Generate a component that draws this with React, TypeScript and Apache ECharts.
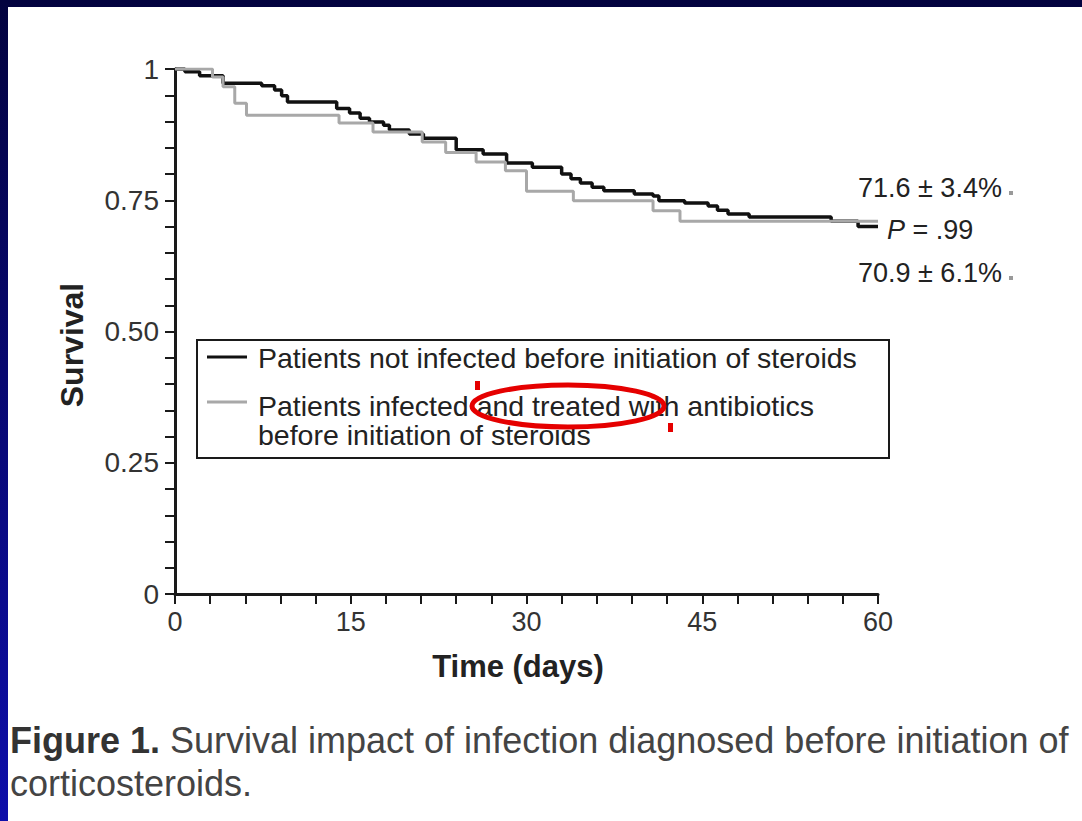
import React, { useEffect, useRef } from "react";
import * as echarts from "echarts";

// Kaplan-Meier steps: day at which the level starts, survival level from that day
const blackDays = [0, 0.85, 2.1, 4.1, 7.4, 8.5, 9.1, 9.6, 13.8, 14.9, 15.8, 16.6, 17.8, 18.3, 20.0, 21.2, 24.0, 26.3, 28.3, 30.5, 33.0, 33.8, 34.6, 35.6, 36.6, 39.2, 40.8, 41.3, 43.5, 45.5, 46.3, 47.2, 49.0, 56.0, 58.3, 60];
const blackSurv = [1.0, 0.995, 0.987, 0.973, 0.968, 0.96, 0.949, 0.937, 0.925, 0.916, 0.906, 0.899, 0.893, 0.884, 0.876, 0.868, 0.846, 0.838, 0.821, 0.813, 0.8, 0.791, 0.783, 0.775, 0.768, 0.762, 0.758, 0.749, 0.745, 0.739, 0.731, 0.724, 0.718, 0.71, 0.7, 0.7];

const greyDays = [0, 3.2, 4.1, 5.1, 6.1, 14.0, 16.9, 21.1, 23.1, 25.7, 28.2, 30.0, 34.0, 40.8, 43.1, 60];
const greySurv = [1.0, 0.985, 0.966, 0.935, 0.912, 0.897, 0.88, 0.861, 0.841, 0.823, 0.806, 0.767, 0.749, 0.73, 0.71, 0.71];

const yTickLabels = ["0", "0.25", "0.50", "0.75", "1"];
const seriesNames = [
  "Patients not infected before initiation of steroids",
  "Patients infected and treated with antibiotics\nbefore initiation of steroids",
];
const annotations = ["71.6 \u00b1 3.4%", " = .99", "70.9 \u00b1 6.1%"];
const xTitle = "Time (days)";
const yTitle = "Survival";
const captionBold = "Figure 1.";
const captionLine1 = " Survival impact of infection diagnosed before initiation of";
const captionLine2 = "corticosteroids.";

const FONT = "'Liberation Sans', Arial, Helvetica, sans-serif";
const INK = "#1a1a1a";
const RED = "#e50000";

export default function App() {
  const ref = useRef<HTMLDivElement>(null);

  useEffect(() => {
    document.body.style.margin = "0";
    const chart = echarts.init(ref.current!, null, { renderer: "svg" });

    const option: any = {
      animation: false,
      backgroundColor: {
        type: "linear", x: 0, y: 0, x2: 0, y2: 1,
        colorStops: [
          { offset: 0, color: "#03033f" },
          { offset: 1, color: "#0e0eaa" },
        ],
      },
      grid: { left: 175, top: 69, width: 703, height: 525, containLabel: false },
      xAxis: {
        type: "value", min: 0, max: 60, interval: 15,
        axisLine: { show: true, onZero: false, lineStyle: { color: INK, width: 3 } },
        axisTick: { show: true, inside: false, length: 10, lineStyle: { color: INK, width: 2 } },
        minorTick: { show: true, splitNumber: 5, length: 10, lineStyle: { color: INK, width: 2 } },
        splitLine: { show: false },
        axisLabel: { fontSize: 27, color: "#333", fontFamily: FONT, margin: 14 },
      },
      yAxis: {
        type: "value", min: 0, max: 1, interval: 0.25,
        axisLine: { show: true, lineStyle: { color: INK, width: 3 } },
        axisTick: { show: true, inside: false, length: 10, lineStyle: { color: INK, width: 2 } },
        minorTick: { show: true, splitNumber: 5, length: 10, lineStyle: { color: INK, width: 2 } },
        splitLine: { show: false },
        axisLabel: {
          fontSize: 28, color: "#333", fontFamily: FONT, margin: 16,
          formatter: (v: number) => yTickLabels[Math.round(v / 0.25)],
        },
      },
      series: [
        {
          type: "line", name: seriesNames[0], step: "end", symbol: "none", z: 2,
          data: blackDays.map((d, i) => [d, blackSurv[i]]),
          lineStyle: { color: "#111", width: 3.5 },
        },
        {
          type: "line", name: seriesNames[1], step: "end", symbol: "none", z: 3,
          data: greyDays.map((d, i) => [d, greySurv[i]]),
          lineStyle: { color: "#a8a8a8", width: 3 },
        },
      ],
      graphic: [
        { type: "rect", z: -10, shape: { x: 8, y: 7, width: 1074, height: 814 }, style: { fill: "#fff" } },
        // legend
        { type: "rect", z: 5, shape: { x: 197, y: 340, width: 692, height: 118 }, style: { fill: "#fff", stroke: INK, lineWidth: 2 } },
        { type: "line", z: 6, shape: { x1: 207, y1: 357, x2: 247, y2: 357 }, style: { stroke: "#111", lineWidth: 3 } },
        { type: "line", z: 6, shape: { x1: 207, y1: 402, x2: 247, y2: 402 }, style: { stroke: "#a8a8a8", lineWidth: 3 } },
        { type: "text", z: 6, x: 258, y: 358, style: { text: seriesNames[0], font: `28.5px ${FONT}`, fill: "#222", textAlign: "left", textVerticalAlign: "middle" } },
        { type: "text", z: 6, x: 258, y: 391, style: { text: seriesNames[1], font: `28.5px ${FONT}`, fill: "#222", textAlign: "left", textVerticalAlign: "top", lineHeight: 29 } },
        // red highlight
        { type: "ellipse", z: 20, shape: { cx: 568, cy: 406, rx: 96, ry: 21 }, style: { fill: "none", stroke: RED, lineWidth: 5 } },
        { type: "rect", z: 20, shape: { x: 475, y: 381, width: 5, height: 9 }, style: { fill: RED } },
        { type: "rect", z: 20, shape: { x: 668, y: 423, width: 5, height: 9 }, style: { fill: RED } },
        // right annotations
        { type: "text", z: 6, x: 858, y: 188, style: { text: annotations[0], font: `27px ${FONT}`, fill: "#222", textAlign: "left", textVerticalAlign: "middle" } },
        {
          type: "text", z: 6, x: 887, y: 230,
          style: {
            text: `{i|P}{n|${annotations[1]}}`, textAlign: "left", textVerticalAlign: "middle",
            rich: {
              i: { fontFamily: FONT, fontSize: 27, fontStyle: "italic", fill: "#222", color: "#222" },
              n: { fontFamily: FONT, fontSize: 27, fill: "#222", color: "#222" },
            },
          },
        },
        { type: "text", z: 6, x: 858, y: 273, style: { text: annotations[2], font: `27px ${FONT}`, fill: "#222", textAlign: "left", textVerticalAlign: "middle" } },
        { type: "rect", z: 6, shape: { x: 1009, y: 191, width: 4, height: 4 }, style: { fill: "#999" } },
        { type: "rect", z: 6, shape: { x: 1009, y: 276, width: 4, height: 4 }, style: { fill: "#999" } },
        // axis titles
        { type: "text", z: 6, x: 518, y: 666, style: { text: xTitle, font: `bold 31px ${FONT}`, fill: "#222", textAlign: "center", textVerticalAlign: "middle" } },
        { type: "text", z: 6, x: 72, y: 345, rotation: Math.PI / 2, style: { text: yTitle, font: `bold 32px ${FONT}`, fill: "#222", textAlign: "center", textVerticalAlign: "middle" } },
        // caption
        {
          type: "text", z: 6, x: 10, y: 740,
          style: {
            text: `{b|${captionBold}}{r|${captionLine1}}`, textAlign: "left", textVerticalAlign: "middle",
            rich: {
              b: { fontFamily: FONT, fontSize: 36, fontWeight: "bold", fill: "#333", color: "#333" },
              r: { fontFamily: FONT, fontSize: 36, fill: "#444", color: "#444" },
            },
          },
        },
        { type: "text", z: 6, x: 10, y: 783, style: { text: captionLine2, font: `36px ${FONT}`, fill: "#444", textAlign: "left", textVerticalAlign: "middle" } },
      ],
    };

    chart.setOption(option);
    return () => chart.dispose();
  }, []);

  return <div ref={ref} style={{ position: "absolute", left: 0, top: 0, width: 1082, height: 821 }} />;
}
